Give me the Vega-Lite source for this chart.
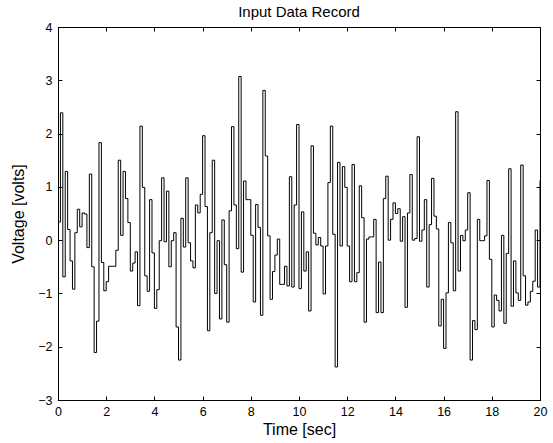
{
  "$schema": "https://vega.github.io/schema/vega-lite/v6.json",
  "width": 482,
  "height": 373,
  "autosize": {"type": "none"},
  "padding": {"left": 58, "top": 27, "right": 13, "bottom": 43},
  "background": "white",
  "title": {"text": "Input Data Record", "font": "Liberation Sans", "fontSize": 15, "fontWeight": "normal", "color": "black", "offset": 1},
  "config": {
    "view": {"stroke": "black", "strokeWidth": 1},
    "axis": {
      "domainColor": "black", "tickColor": "black", "labelColor": "black", "titleColor": "black",
      "labelFont": "Liberation Sans", "labelFontSize": 12.5,
      "titleFont": "Liberation Sans", "titleFontSize": 16, "titleFontWeight": "normal",
      "grid": false, "tickSize": -4
    }
  },
  "data": {"values": [
    {"t":0.0,"v":0.34},{"t":0.1,"v":2.39},{"t":0.2,"v":-0.69},{"t":0.3,"v":1.29},{"t":0.4,"v":0.20},
    {"t":0.5,"v":-0.39},{"t":0.6,"v":-0.92},{"t":0.7,"v":0.14},{"t":0.8,"v":0.58},{"t":0.9,"v":0.25},
    {"t":1.0,"v":0.51},{"t":1.1,"v":0.49},{"t":1.2,"v":-0.14},{"t":1.3,"v":1.24},{"t":1.4,"v":-0.50},
    {"t":1.5,"v":-2.11},{"t":1.6,"v":-1.52},{"t":1.7,"v":1.83},{"t":1.8,"v":-0.42},{"t":1.9,"v":-0.95},
    {"t":2.0,"v":-0.78},{"t":2.1,"v":-0.49},{"t":2.2,"v":-0.49},{"t":2.3,"v":-0.49},{"t":2.4,"v":-0.19},
    {"t":2.5,"v":1.50},{"t":2.6,"v":0.09},{"t":2.7,"v":1.29},{"t":2.8,"v":0.78},{"t":2.9,"v":0.33},
    {"t":3.0,"v":-0.58},{"t":3.1,"v":-0.43},{"t":3.2,"v":-0.22},{"t":3.3,"v":-1.23},{"t":3.4,"v":2.14},
    {"t":3.5,"v":0.99},{"t":3.6,"v":-0.67},{"t":3.7,"v":-0.96},{"t":3.8,"v":0.76},{"t":3.9,"v":-0.24},
    {"t":4.0,"v":-1.28},{"t":4.1,"v":-0.93},{"t":4.2,"v":-0.01},{"t":4.3,"v":1.17},{"t":4.4,"v":-0.03},
    {"t":4.5,"v":0.92},{"t":4.6,"v":-0.50},{"t":4.7,"v":-0.01},{"t":4.8,"v":0.14},{"t":4.9,"v":-1.63},
    {"t":5.0,"v":-2.25},{"t":5.1,"v":0.41},{"t":5.2,"v":-0.13},{"t":5.3,"v":1.17},{"t":5.4,"v":-0.05},
    {"t":5.5,"v":-0.39},{"t":5.6,"v":-0.52},{"t":5.7,"v":0.66},{"t":5.8,"v":0.51},{"t":5.9,"v":0.86},
    {"t":6.0,"v":1.96},{"t":6.1,"v":0.63},{"t":6.2,"v":-1.70},{"t":6.3,"v":0.14},{"t":6.4,"v":1.50},
    {"t":6.5,"v":-1.00},{"t":6.6,"v":-0.01},{"t":6.7,"v":-1.48},{"t":6.8,"v":0.38},{"t":6.9,"v":-0.46},
    {"t":7.0,"v":-1.54},{"t":7.1,"v":0.55},{"t":7.2,"v":2.13},{"t":7.3,"v":0.66},{"t":7.4,"v":-0.16},
    {"t":7.5,"v":3.07},{"t":7.6,"v":-0.60},{"t":7.7,"v":1.11},{"t":7.8,"v":0.76},{"t":7.9,"v":0.76},
    {"t":8.0,"v":0.09},{"t":8.1,"v":-1.16},{"t":8.2,"v":0.67},{"t":8.3,"v":0.24},{"t":8.4,"v":-1.41},
    {"t":8.5,"v":2.81},{"t":8.6,"v":1.58},{"t":8.7,"v":0.08},{"t":8.8,"v":-1.11},{"t":8.9,"v":-0.59},
    {"t":9.0,"v":-0.28},{"t":9.1,"v":0.02},{"t":9.2,"v":-0.83},{"t":9.3,"v":-0.83},{"t":9.4,"v":-0.49},
    {"t":9.5,"v":-0.86},{"t":9.6,"v":1.19},{"t":9.7,"v":-0.88},{"t":9.8,"v":0.66},{"t":9.9,"v":2.17},
    {"t":10.0,"v":-0.91},{"t":10.1,"v":0.53},{"t":10.2,"v":-0.58},{"t":10.3,"v":-0.22},{"t":10.4,"v":-1.33},
    {"t":10.5,"v":1.77},{"t":10.6,"v":0.13},{"t":10.7,"v":-0.09},{"t":10.8,"v":0.05},{"t":10.9,"v":-0.11},
    {"t":11.0,"v":-1.01},{"t":11.1,"v":-0.11},{"t":11.2,"v":1.08},{"t":11.3,"v":2.14},{"t":11.4,"v":0.11},
    {"t":11.5,"v":-2.38},{"t":11.6,"v":1.46},{"t":11.7,"v":-0.11},{"t":11.8,"v":1.38},{"t":11.9,"v":0.99},
    {"t":12.0,"v":-0.11},{"t":12.1,"v":-0.78},{"t":12.2,"v":1.42},{"t":12.3,"v":-0.78},{"t":12.4,"v":-0.61},
    {"t":12.5,"v":1.02},{"t":12.6,"v":0.42},{"t":12.7,"v":-1.54},{"t":12.8,"v":0.02},{"t":12.9,"v":0.06},
    {"t":13.0,"v":0.06},{"t":13.1,"v":0.39},{"t":13.2,"v":-1.36},{"t":13.3,"v":-0.41},{"t":13.4,"v":-1.36},
    {"t":13.5,"v":0.78},{"t":13.6,"v":1.20},{"t":13.7,"v":0.00},{"t":13.8,"v":0.39},{"t":13.9,"v":0.70},
    {"t":14.0,"v":0.50},{"t":14.1,"v":0.59},{"t":14.2,"v":-0.02},{"t":14.3,"v":0.44},{"t":14.4,"v":-1.26},
    {"t":14.5,"v":0.51},{"t":14.6,"v":1.23},{"t":14.7,"v":0.00},{"t":14.8,"v":0.03},{"t":14.9,"v":1.94},
    {"t":15.0,"v":-0.02},{"t":15.1,"v":0.19},{"t":15.2,"v":0.76},{"t":15.3,"v":-0.88},{"t":15.4,"v":0.29},
    {"t":15.5,"v":1.16},{"t":15.6,"v":0.45},{"t":15.7,"v":0.21},{"t":15.8,"v":-1.61},{"t":15.9,"v":-1.11},
    {"t":16.0,"v":-2.03},{"t":16.1,"v":-0.99},{"t":16.2,"v":0.33},{"t":16.3,"v":-0.05},{"t":16.4,"v":-0.95},
    {"t":16.5,"v":2.41},{"t":16.6,"v":-0.58},{"t":16.7,"v":0.09},{"t":16.8,"v":-0.01},{"t":16.9,"v":0.19},
    {"t":17.0,"v":0.89},{"t":17.1,"v":-2.25},{"t":17.2,"v":-1.51},{"t":17.3,"v":-1.68},{"t":17.4,"v":0.39},
    {"t":17.5,"v":-0.01},{"t":17.6,"v":-0.01},{"t":17.7,"v":0.08},{"t":17.8,"v":1.12},{"t":17.9,"v":-0.36},
    {"t":18.0,"v":-1.63},{"t":18.1,"v":-1.03},{"t":18.2,"v":-1.13},{"t":18.3,"v":-1.33},{"t":18.4,"v":0.09},
    {"t":18.5,"v":-1.56},{"t":18.6,"v":-0.25},{"t":18.7,"v":1.34},{"t":18.8,"v":-1.24},{"t":18.9,"v":-0.39},
    {"t":19.0,"v":-0.99},{"t":19.1,"v":-1.13},{"t":19.2,"v":1.41},{"t":19.3,"v":-0.67},{"t":19.4,"v":-1.22},
    {"t":19.5,"v":-1.16},{"t":19.6,"v":-0.96},{"t":19.7,"v":-0.77},{"t":19.8,"v":0.19},{"t":19.9,"v":-0.88},
    {"t":20.0,"v":1.12}
  ]},
  "layer": [
    {
      "mark": {"type": "line", "interpolate": "step-after", "color": "black", "strokeWidth": 1},
      "encoding": {
        "x": {"field": "t", "type": "quantitative", "scale": {"domain": [0, 20], "nice": false},
              "axis": {"orient": "bottom", "values": [0,2,4,6,8,10,12,14,16,18,20], "title": "Time [sec]", "labelPadding": 9, "titlePadding": 4, "labelFlush": false}},
        "y": {"field": "v", "type": "quantitative", "scale": {"domain": [-3, 4], "nice": false, "zero": false},
              "axis": {"orient": "left", "values": [-3,-2,-1,0,1,2,3,4], "title": "Voltage [volts]", "labelPadding": 10, "titlePadding": 11, "labelFlush": false}}
      }
    },
    {
      "mark": {"type": "line", "interpolate": "step-after", "strokeOpacity": 0},
      "encoding": {
        "x": {"field": "t", "type": "quantitative",
              "axis": {"orient": "top", "values": [0,2,4,6,8,10,12,14,16,18,20], "labels": false, "title": null}},
        "y": {"field": "v", "type": "quantitative",
              "axis": {"orient": "right", "values": [-3,-2,-1,0,1,2,3,4], "labels": false, "title": null}}
      }
    }
  ],
  "resolve": {"axis": {"x": "independent", "y": "independent"}}
}
